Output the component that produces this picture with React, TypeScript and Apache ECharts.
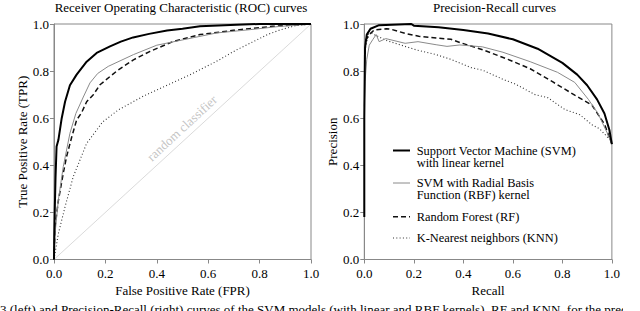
import React, { useEffect, useRef } from "react";
import * as echarts from "echarts";

const FONT = "Liberation Serif";

const tickValues = [0, 0.2, 0.4, 0.6, 0.8, 1.0];

const rocSvm: number[][] = [
  [0, 0], [0.001, 0.1], [0.003, 0.21], [0.006, 0.35], [0.01, 0.48], [0.017, 0.507],
  [0.03, 0.6], [0.043, 0.67], [0.062, 0.74], [0.088, 0.785], [0.127, 0.84],
  [0.166, 0.877], [0.218, 0.905], [0.26, 0.925], [0.308, 0.943], [0.37, 0.958],
  [0.44, 0.972], [0.5, 0.98], [0.568, 0.99], [0.64, 0.994], [0.71, 0.997],
  [0.8, 1.0], [1, 1],
];
const rocRbf: number[][] = [
  [0, 0], [0.004, 0.11], [0.017, 0.253], [0.036, 0.394], [0.062, 0.536],
  [0.085, 0.62], [0.114, 0.69], [0.14, 0.75], [0.17, 0.79], [0.211, 0.82], [0.309, 0.87],
  [0.4, 0.91], [0.503, 0.933], [0.633, 0.962], [0.763, 0.976], [0.88, 0.99], [1, 1],
];
const rocRf: number[][] = [
  [0, 0], [0.004, 0.14], [0.017, 0.25], [0.036, 0.366], [0.049, 0.437],
  [0.069, 0.52], [0.088, 0.592], [0.108, 0.625], [0.127, 0.67], [0.153, 0.7],
  [0.179, 0.742], [0.244, 0.8], [0.309, 0.848], [0.374, 0.884], [0.464, 0.926],
  [0.568, 0.955], [0.698, 0.973], [0.76, 0.98], [0.85, 0.99], [1, 1],
];
const rocKnn: number[][] = [
  [0, 0], [0.017, 0.11], [0.043, 0.224], [0.075, 0.352], [0.127, 0.493],
  [0.19, 0.585], [0.25, 0.635], [0.35, 0.695], [0.44, 0.74], [0.54, 0.79],
  [0.63, 0.84], [0.71, 0.89], [0.77, 0.922], [0.83, 0.955], [0.88, 0.975],
  [0.94, 0.993], [1, 1],
];
const rocDiagonal: number[][] = [[0, 0], [1, 1]];

const prSvm: number[][] = [
  [0, 0.18], [0, 0.6], [0.003, 0.9], [0.01, 0.955], [0.025, 0.98], [0.06, 0.995],
  [0.19, 1.0], [0.2, 0.993], [0.3, 0.986], [0.4, 0.975], [0.5, 0.96], [0.6, 0.935],
  [0.7, 0.895], [0.8, 0.835], [0.86, 0.785], [0.9, 0.74], [0.94, 0.68], [0.97, 0.62],
  [0.99, 0.55], [1.0, 0.49],
];
const prRbf: number[][] = [
  [0, 0.65], [0.003, 0.755], [0.01, 0.85], [0.02, 0.91], [0.035, 0.935],
  [0.048, 0.955], [0.06, 0.925], [0.087, 0.938], [0.165, 0.918], [0.217, 0.925],
  [0.29, 0.912], [0.334, 0.905], [0.386, 0.911], [0.477, 0.903], [0.56, 0.88],
  [0.67, 0.84], [0.78, 0.795], [0.85, 0.752], [0.905, 0.68], [0.944, 0.62],
  [0.98, 0.54], [1, 0.49],
];
const prRf: number[][] = [
  [0.005, 0.93], [0.02, 0.955], [0.04, 0.975], [0.09, 0.98], [0.11, 0.977],
  [0.165, 0.96], [0.22, 0.948], [0.3, 0.94], [0.35, 0.935], [0.39, 0.92],
  [0.48, 0.89], [0.58, 0.85], [0.67, 0.81], [0.76, 0.755], [0.85, 0.698],
  [0.92, 0.655], [0.97, 0.575], [1, 0.49],
];
const prKnn: number[][] = [
  [0.005, 0.9], [0.02, 0.97], [0.04, 0.955], [0.09, 0.93], [0.15, 0.91],
  [0.21, 0.89], [0.29, 0.87], [0.35, 0.85], [0.43, 0.815], [0.48, 0.803],
  [0.56, 0.765], [0.61, 0.745], [0.69, 0.7], [0.74, 0.688], [0.81, 0.637],
  [0.87, 0.615], [0.92, 0.572], [0.95, 0.555], [1, 0.5],
];

const diagLabelPoint: number[][] = [[0.498, 0.558]];

const titles = ["Receiver Operating Characteristic (ROC) curves", "Precision-Recall curves"];
const xNames = ["False Positive Rate (FPR)", "Recall"];
const yNames = ["True Positive Rate (TPR)", "Precision"];
const legendLines = [
  ["Support Vector Machine (SVM)", "with linear kernel"],
  ["SVM with Radial Basis", "Function (RBF) kernel"],
  ["Random Forest (RF)"],
  ["K-Nearest neighbors (KNN)"],
];
const caption =
  "3 (left) and Precision-Recall (right) curves of the SVM models (with linear and RBF kernels), RF and KNN, for the prediction";

const styles = {
  svm: { color: "#000", width: 2, type: "solid" as any },
  rbf: { color: "#8a8a8a", width: 1, type: "solid" as any },
  rf: { color: "#111", width: 1.5, type: [5, 3] as any },
  knn: { color: "#333", width: 1.1, type: [1, 2.3] as any },
};

export default function App() {
  const ref = useRef<HTMLDivElement>(null);
  useEffect(() => {
    if (!ref.current) return;
    const chart = echarts.init(ref.current, undefined, { renderer: "svg" });
    const axisBase = (i: number) => ({
      gridIndex: i,
      type: "value",
      min: 0,
      max: 1,
      interval: 0.2,
      axisLine: { show: true, lineStyle: { color: "#888", width: 1 } },
      axisTick: { show: true, inside: false, length: 4, lineStyle: { color: "#888" } },
      splitLine: { show: false },
      nameLocation: "middle",
      nameTextStyle: { fontFamily: FONT, fontSize: 13, color: "#000" },
    });
    const mkLine = (data: number[][], st: any, xi: number, z: number) => ({
      type: "line",
      xAxisIndex: xi,
      yAxisIndex: xi,
      data,
      showSymbol: false,
      symbol: "none",
      silent: true,
      z,
      lineStyle: { color: st.color, width: st.width, type: st.type, cap: "butt" },
    });
    const txt = (size: number) => ({ fontFamily: FONT, fontSize: size, fill: "#000" });
    const legendGraphics: any[] = [];
    const legendY = [150.5, 183, 216.7, 238];
    const legendStyles = [styles.svm, styles.rbf, styles.rf, styles.knn];
    legendLines.forEach((lines, i) => {
      const st = legendStyles[i];
      legendGraphics.push({
        type: "line",
        shape: { x1: 393, y1: legendY[i], x2: 410, y2: legendY[i] },
        style: { stroke: st.color, lineWidth: st.width, lineDash: Array.isArray(st.type) ? st.type : null },
      });
      lines.forEach((t, j) => {
        legendGraphics.push({
          type: "text",
          x: 416.7,
          y: legendY[i] + j * 12.4,
          style: { ...txt(12.4), text: t, align: "left", verticalAlign: "middle" },
        });
      });
    });
    chart.setOption({
      animation: false,
      textStyle: { fontFamily: FONT },
      grid: [
        { left: 54, top: 24, width: 257, height: 235.5, show: true, borderColor: "#888", borderWidth: 1, backgroundColor: "transparent" },
        { left: 364.3, top: 24, width: 256.7, height: 235.5, show: true, borderColor: "#888", borderWidth: 1, backgroundColor: "transparent" },
      ],
      xAxis: [0, 1].map((i) => ({
        ...axisBase(i),
        name: xNames[i],
        nameGap: 21,
        axisLabel: {
          color: "#000", fontFamily: FONT, fontSize: 13, margin: 7,
          formatter: (v: number) => (tickValues.includes(Math.round(v * 10) / 10) ? v.toFixed(1) : ""),
        },
      })),
      yAxis: [0, 1].map((i) => ({
        ...axisBase(i),
        name: yNames[i],
        nameGap: 25,
        axisLabel: {
          color: "#000", fontFamily: FONT, fontSize: 13, margin: 5,
          formatter: (v: number) => v.toFixed(1),
        },
      })),
      series: [
        {
          type: "line", xAxisIndex: 0, yAxisIndex: 0, data: rocDiagonal, showSymbol: false, symbol: "none",
          silent: true, z: 1, lineStyle: { color: "#d0d0d0", width: 0.8 },
        },
        {
          type: "scatter", xAxisIndex: 0, yAxisIndex: 0, data: diagLabelPoint, symbolSize: 0, silent: true, z: 1,
          label: {
            show: true, position: "inside", formatter: "random classifier", rotate: 42.8,
            color: "#b5b5b5", fontFamily: FONT, fontSize: 13,
          },
        },
        mkLine(rocKnn, styles.knn, 0, 2),
        mkLine(rocRf, styles.rf, 0, 3),
        mkLine(rocRbf, styles.rbf, 0, 4),
        mkLine(rocSvm, styles.svm, 0, 5),
        mkLine(prKnn, styles.knn, 1, 2),
        mkLine(prRf, styles.rf, 1, 3),
        mkLine(prRbf, styles.rbf, 1, 4),
        mkLine(prSvm, styles.svm, 1, 5),
      ],
      graphic: [
        { type: "text", x: 181, y: 7, style: { ...txt(13), text: titles[0], align: "center", verticalAlign: "middle" } },
        { type: "text", x: 494.5, y: 7, style: { ...txt(13), text: titles[1], align: "center", verticalAlign: "middle" } },
        ...legendGraphics,
        { type: "text", x: 0, y: 303, style: { ...txt(13), text: caption, align: "left", verticalAlign: "top" } },
      ],
    });
    return () => chart.dispose();
  }, []);
  return (
    <div
      ref={ref}
      style={{ position: "absolute", left: 0, top: 0, width: 623, height: 311, overflow: "hidden", background: "#fff" }}
    />
  );
}
